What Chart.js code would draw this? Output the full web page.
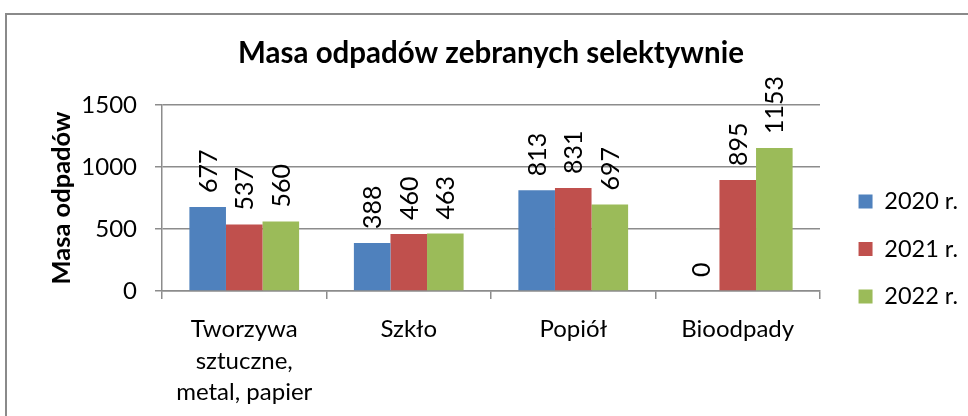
<!DOCTYPE html>
<html><head><meta charset="utf-8">
<script src="https://cdn.jsdelivr.net/npm/chart.js@4.4.0/dist/chart.umd.min.js"></script>
<style>
html,body{margin:0;padding:0;background:#fff;overflow:hidden;width:968px;height:416px}
#frame{position:absolute;left:5px;top:13px;width:1000px;height:500px;border:2px solid #8a8a8a;box-sizing:border-box}
#c{position:absolute;left:0;top:0}
</style></head><body>
<div id="frame"></div>
<canvas id="c" width="968" height="416"></canvas>
<script>
const chartTitle = "Masa odpadów zebranych selektywnie";
const yAxisTitle = "Masa odpadów";
const categories = [["Tworzywa","sztuczne,","metal, papier"], "Szkło", "Popiół", "Bioodpady"];
const seriesNames = ["2020 r.", "2021 r.", "2022 r."];
const values2020 = [677, 388, 813, 0];
const values2021 = [537, 460, 831, 895];
const values2022 = [560, 463, 697, 1153];
const yTicks = [0, 500, 1000, 1500];
const seriesColors = ["#4f81bd", "#c0504d", "#9bbb59"];

const gridColor = "#8c8c8c";
const seriesValues = [values2020, values2021, values2022];

const valueLabels = {
  id: "valueLabels",
  afterDatasetsDraw(chart) {
    const ctx = chart.ctx;
    ctx.save();
    ctx.font = "25px Lato";
    ctx.fillStyle = "#000";
    ctx.textAlign = "left";
    ctx.textBaseline = "middle";
    chart.data.datasets.forEach((ds, i) => {
      const meta = chart.getDatasetMeta(i);
      meta.data.forEach((el, j) => {
        ctx.save();
        ctx.translate(el.x + 1, el.y - 14);
        ctx.rotate(-Math.PI / 2);
        ctx.fillText(String(ds.data[j]), 0, 0);
        ctx.restore();
      });
    });
    ctx.restore();
  }
};

Chart.defaults.font.family = "Lato";
Chart.defaults.color = "#000";

new Chart(document.getElementById("c"), {
  type: "bar",
  data: {
    labels: categories,
    datasets: seriesNames.map((name, i) => ({
      label: name,
      data: seriesValues[i],
      backgroundColor: seriesColors[i],
      borderWidth: 0,
      categoryPercentage: 0.667,
      barPercentage: 1.0
    }))
  },
  options: {
    responsive: false,
    animation: false,
    devicePixelRatio: 1,
    layout: { padding: 0 },
    plugins: {
      tooltip: { enabled: false },
      title: {
        display: true,
        text: chartTitle,
        fullSize: false,
        font: { size: 29.5, weight: "bold", family: "Lato" },
        color: "#000",
        padding: { top: 36, bottom: 33.6 }
      },
      legend: {
        position: "right",
        fullSize: true,
        title: { display: true, text: "", font: { size: 10 }, padding: { top: 70, bottom: 0 } },
        labels: {
          boxWidth: 14,
          boxHeight: 14,
          padding: 24,
          font: { size: 23.5, family: "Lato" },
          color: "#000"
        }
      }
    },
    scales: {
      x: {
        grid: {
          display: true,
          drawOnChartArea: false,
          drawTicks: true,
          tickLength: 8,
          color: gridColor,
          lineWidth: 1.5,
          offset: true
        },
        border: { display: true, color: gridColor, width: 1.5 },
        ticks: { font: { size: 24, lineHeight: 1.31 }, padding: 15, color: "#000", maxRotation: 0, autoSkip: false },
        afterFit(s) { s.height = 125; }
      },
      y: {
        min: 0,
        max: 1500,
        afterBuildTicks(s) { s.ticks = yTicks.map(v => ({ value: v })); },
        grid: { color: gridColor, lineWidth: 1.5, tickLength: 7, drawTicks: true },
        border: { display: true, color: gridColor, width: 1.5 },
        ticks: { font: { size: 24 }, padding: 18, color: "#000", callback: v => String(v) },
        title: {
          display: true,
          text: yAxisTitle,
          font: { size: 25.5, weight: "bold" },
          color: "#000",
          padding: { top: 46, bottom: 0 }
        },
        afterFit(s) { s.width = 162; }
      },
      yRight: {
        position: "right",
        display: true,
        grid: { display: false },
        border: { display: false },
        ticks: { display: false },
        afterFit(s) {
          const lw = s.chart.legend ? s.chart.legend.width : 0;
          s.width = Math.max(0, s.chart.width - lw - 820);
        }
      }
    }
  },
  plugins: [valueLabels]
});
</script>
</body></html>
